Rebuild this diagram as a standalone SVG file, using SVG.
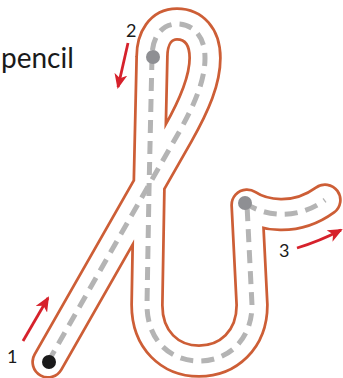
<svg xmlns="http://www.w3.org/2000/svg" width="343" height="378" viewBox="0 0 343 378">
<style>
.band{fill:none;stroke-linecap:round;stroke-linejoin:round}
.outer{stroke:#cd5e36;stroke-width:33.5}
.inner{stroke:#ffffff;stroke-width:28}
.dash{fill:none;stroke:#b4b4b4;stroke-width:5;stroke-dasharray:13 8}
.arrow{fill:none;stroke:#d6212b;stroke-width:2.8;marker-end:url(#ah)}
.lbl{font-family:Lato,"Open Sans","Liberation Sans",sans-serif;fill:#1a1a1a}
</style>
<defs>
<marker id="ah" viewBox="0 0 15 13" refX="13" refY="6.5" markerWidth="15" markerHeight="13" markerUnits="userSpaceOnUse" orient="auto">
<path d="M0,0 L15,6.5 L0,13 L4,6.5 Z" fill="#d6212b"/>
</marker>
</defs>
<g id="letter">
<path class="band outer" d="M48,362 L178,134 C195,104 205,80 205,58 C205,36 193,24 177,24 C161,24 152,38 152,57 L149,190 L147,305 C147,340 170,361 199,361 C228,361 252,340 252,305 L247,205 C262,215 295,222 325,200"/>
<path class="band inner" d="M48,362 L178,134 C195,104 205,80 205,58 C205,36 193,24 177,24 C161,24 152,38 152,57 L149,190 L147,305 C147,340 170,361 199,361 C228,361 252,340 252,305 L247,205 C262,215 295,222 325,200"/>
</g>
<g id="stroke1">
<path class="dash" d="M48,362 L178,134 C195,104 205,80 205,58 C205,36 193,24 177,24 C161,24 152,38 152,57"/>
<circle cx="49" cy="362" r="7" fill="#1a1a1a"/>
</g>
<g id="stroke2">
<path class="dash" d="M152,57 L149,190 L147,305 C147,340 170,361 199,361 C228,361 252,340 252,305 L247,205"/>
<circle cx="153" cy="57" r="7" fill="#8e8f93"/>
</g>
<g id="stroke3">
<path class="dash" d="M245,203 C262,215 295,222 325,200"/>
<circle cx="245" cy="203" r="7" fill="#8e8f93"/>
</g>
<g id="connectors">
<path class="arrow" d="M23,341 L48,298"/>
<path class="arrow" d="M128,43 L118,87"/>
<path class="arrow" d="M297,248 Q320,241 341,230"/>
</g>
<g id="labels">
<text class="lbl" x="1" y="68" font-size="28">pencil</text>
<text class="lbl" x="7" y="363" font-size="18">1</text>
<text class="lbl" x="126" y="37" font-size="18">2</text>
<text class="lbl" x="279" y="257" font-size="18">3</text>
</g>
</svg>
